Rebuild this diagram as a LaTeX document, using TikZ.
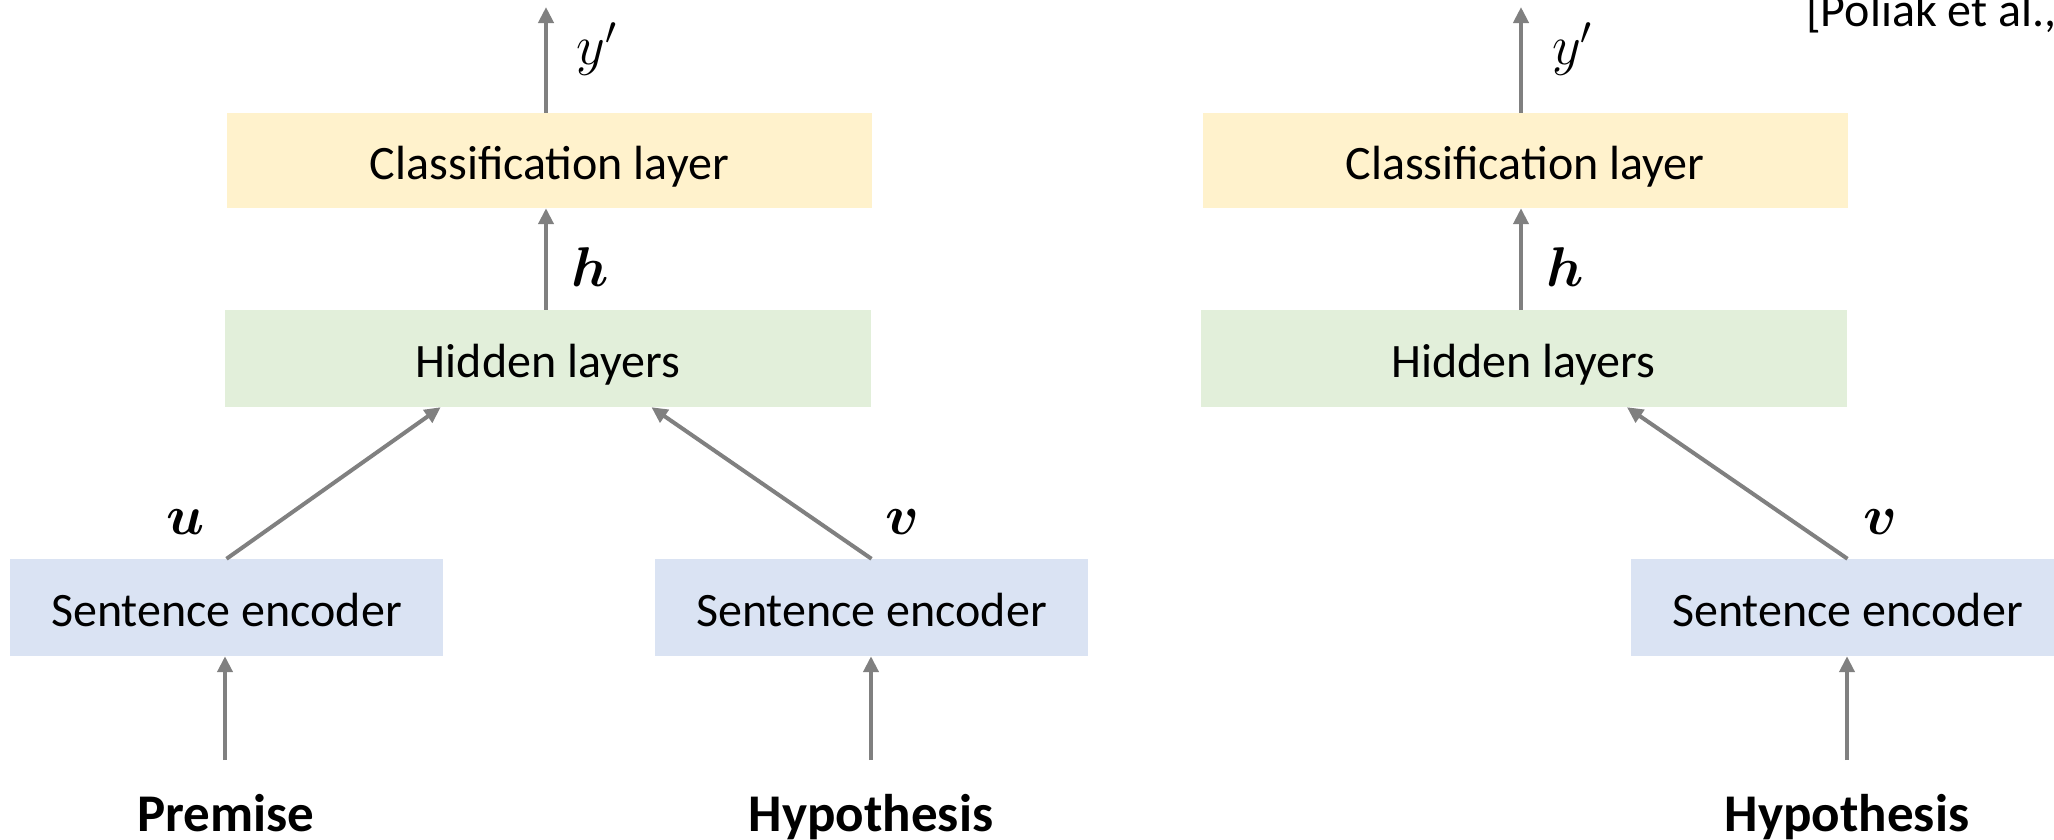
\documentclass[tikz,border=0pt]{standalone}
\usepackage{fix-cm}
\usepackage{amsmath,bm}
\usepackage{fontspec}
\setmainfont{Carlito}
\usetikzlibrary{arrows.meta,calc}
\definecolor{clsfill}{HTML}{FFF2CC}
\definecolor{hidfill}{HTML}{E2EFDA}
\definecolor{encfill}{HTML}{DAE3F3}
\definecolor{edgegray}{HTML}{808080}
\tikzset{
  layerbox/.style={rectangle, inner sep=0pt, text=black,
    text height=37pt, text depth=0pt,
    font=\fontsize{48}{56}\selectfont},
  clsbox/.style={layerbox, fill=clsfill, minimum width=645pt, minimum height=95pt},
  hidbox/.style={layerbox, fill=hidfill, minimum width=646pt, minimum height=97pt},
  encbox/.style={layerbox, fill=encfill, minimum width=433pt, minimum height=97pt},
  inputlabel/.style={anchor=base, inner sep=0pt, font=\fontsize{53}{62}\selectfont\bfseries},
  mathlabel/.style={inner sep=0pt, font=\fontsize{56}{64}\selectfont},
  flow/.style={draw=edgegray, line width=4pt, -{Triangle[length=16pt,width=15pt]}},
}
\begin{document}
\begin{tikzpicture}[x=1pt,y=-1pt]
\clip (0,0) rectangle (2054,839);
\fill[white] (0,0) rectangle (2054,839);

% left model: premise and hypothesis
\node[clsbox] (cl1) at (549.5,160.5) {Classification layer};
\node[hidbox] (hl1) at (548,358.5) {Hidden layers};
\node[encbox] (se1) at (226.5,607.5) {Sentence encoder};
\node[encbox] (se2) at (871.5,607.5) {Sentence encoder};
\node[inputlabel] (prem) at (226,831) {Premise};
\node[inputlabel] (hyp1) at (871,831) {Hypothesis};
\coordinate (out1) at (546,7);
\coordinate (in1) at (225,760);
\coordinate (in2) at (871,760);

\draw[flow] (cl1.north -| out1) -- (out1);
\draw[flow] (hl1.north -| out1) -- (cl1.south -| out1);
\draw[flow] (se1.north) -- ($(hl1.south west)!0.334!(hl1.south east)$);
\draw[flow] (se2.north) -- ($(hl1.south west)!0.66!(hl1.south east)$);
\draw[flow] (in1) -- (se1.south -| in1);
\draw[flow] (in2) -- (se2.south -| in2);

\node[mathlabel] (yl1) at (597,49) {$y'$};
\node[mathlabel] (hl1lab) at (590,267) {$\bm{h}$};
\node[mathlabel] (ulab) at (186,522) {$\bm{u}$};
\node[mathlabel] (vlab1) at (902,522) {$\bm{v}$};

% right model: hypothesis only
\node[clsbox] (cl2) at (1525,160.5) {Classification layer};
\node[hidbox] (hl2) at (1523.5,358.5) {Hidden layers};
\node[encbox] (se3) at (1847.5,607.5) {Sentence encoder};
\node[inputlabel] (hyp2) at (1847,831) {Hypothesis};
\coordinate (out2) at (1521,7);
\coordinate (in3) at (1847,760);

\draw[flow] (cl2.north -| out2) -- (out2);
\draw[flow] (hl2.north -| out2) -- (cl2.south -| out2);
\draw[flow] (se3.north) -- ($(hl2.south west)!0.66!(hl2.south east)$);
\draw[flow] (in3) -- (se3.south -| in3);

\node[mathlabel] (yl2) at (1572,49) {$y'$};
\node[mathlabel] (hl2lab) at (1565,267) {$\bm{h}$};
\node[mathlabel] (vlab2) at (1880,522) {$\bm{v}$};

% citation
\node[anchor=base west, inner sep=0pt, font=\fontsize{48}{56}\selectfont] (cite) at (1806,26) {[Poliak et al.,};
\end{tikzpicture}
\end{document}
